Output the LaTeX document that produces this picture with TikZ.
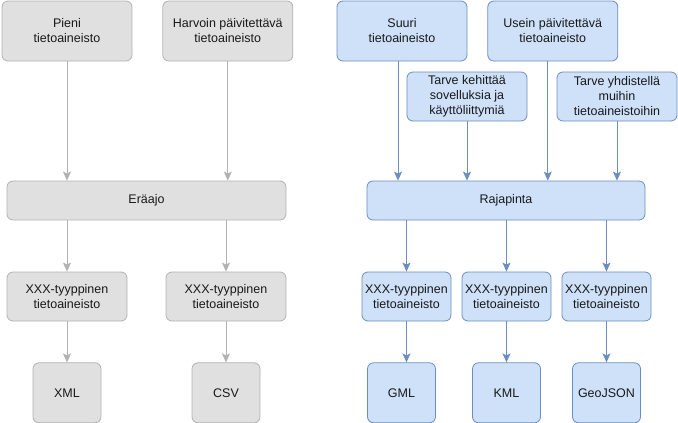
\documentclass[tikz,border=0pt]{standalone}
\usepackage{fontspec}
\setmainfont{Liberation Sans}
\usetikzlibrary{positioning,arrows.meta}
\definecolor{greyfill}{RGB}{224,224,224}
\definecolor{greyline}{RGB}{178,178,178}
\definecolor{bluefill}{RGB}{206,225,248}
\definecolor{blueline}{RGB}{108,142,191}
\begin{document}
\begin{tikzpicture}[x=1pt,y=-1pt,
    box/.style={draw,rounded corners=6pt,align=center,inner sep=0pt,line width=0.8pt,
      text=black!90,font=\fontsize{12.5}{15}\selectfont},
    greybox/.style={box,fill=greyfill,draw=greyline},
    bluebox/.style={box,fill=bluefill,draw=blueline},
    big/.style={minimum width=130pt,minimum height=60pt},
    wide/.style={minimum width=279pt,minimum height=39pt},
    format/.style={minimum width=68pt,minimum height=60pt},
    greyarrow/.style={draw=greyline,line width=0.8pt,-{Stealth[length=9pt,width=8pt,inset=2pt]}},
    bluearrow/.style={draw=blueline,line width=0.8pt,-{Stealth[length=9pt,width=8pt,inset=2pt]}}]
  \useasboundingbox (0,0) rectangle (678,423);
  % eraajo
  \node[greybox,big] (pieni) at (67,31) {Pieni\\tietoaineisto};
  \node[greybox,big,right=30pt of pieni] (harvoin) {Harvoin päivitettävä\\tietoaineisto};
  \node[greybox,wide] (eraajo) at (146.5,200.5) {Eräajo};
  \node[greybox,minimum width=120pt,minimum height=49pt] (tyyppia) at (67,296.5) {XXX-tyyppinen\\tietoaineisto};
  \node[greybox,minimum width=120pt,minimum height=49pt] (tyyppib) at (226,296.5) {XXX-tyyppinen\\tietoaineisto};
  \node[greybox,format,below=41pt of tyyppia] (xml) {XML};
  \node[greybox,format,below=41pt of tyyppib] (csv) {CSV};
  %
  \draw[greyarrow] (pieni.south) -- (pieni.south |- eraajo.north);
  \draw[greyarrow] (harvoin.south) -- (harvoin.south |- eraajo.north);
  \draw[greyarrow] (tyyppia |- eraajo.south) -- (tyyppia.north);
  \draw[greyarrow] (tyyppib |- eraajo.south) -- (tyyppib.north);
  \draw[greyarrow] (tyyppia.south) -- (xml.north);
  \draw[greyarrow] (tyyppib.south) -- (csv.north);
  % rajapinta
  \node[bluebox,big] (suuri) at (402,31) {Suuri\\tietoaineisto};
  \node[bluebox,big,right=20pt of suuri] (usein) {Usein päivitettävä\\tietoaineisto};
  \node[bluebox,minimum width=120pt,minimum height=49pt] (kehittaa) at (467,96.5) {Tarve kehittää\\sovelluksia ja\\käyttöliittymiä};
  \node[bluebox,minimum width=120pt,minimum height=49pt] (yhdistella) at (617,96.5) {Tarve yhdistellä\\muihin\\tietoaineistoihin};
  \node[bluebox,minimum width=278pt,minimum height=39pt] (rajapinta) at (506,200.5) {Rajapinta};
  \node[bluebox,minimum width=89pt,minimum height=49pt] (tyyppic) at (406.5,296.5) {XXX-tyyppinen\\tietoaineisto};
  \node[bluebox,minimum width=89pt,minimum height=49pt] (tyyppid) at (506.5,296.5) {XXX-tyyppinen\\tietoaineisto};
  \node[bluebox,minimum width=89pt,minimum height=49pt] (tyyppie) at (606.5,296.5) {XXX-tyyppinen\\tietoaineisto};
  \node[bluebox,format,below=41pt of tyyppic,xshift=-5pt] (gml) {GML};
  \node[bluebox,format,below=41pt of tyyppid] (kml) {KML};
  \node[bluebox,format,below=41pt of tyyppie] (geojson) {GeoJSON};
  %
  \draw[bluearrow] ([xshift=-4pt]suuri.south) -- ([xshift=-4pt]suuri.south |- rajapinta.north);
  \draw[bluearrow] (kehittaa.south) -- (kehittaa.south |- rajapinta.north);
  \draw[bluearrow] ([xshift=-5pt]usein.south) -- ([xshift=-5pt]usein.south |- rajapinta.north);
  \draw[bluearrow] (yhdistella.south) -- (yhdistella.south |- rajapinta.north);
  \draw[bluearrow] (tyyppic |- rajapinta.south) -- (tyyppic.north);
  \draw[bluearrow] (tyyppid |- rajapinta.south) -- (tyyppid.north);
  \draw[bluearrow] (tyyppie |- rajapinta.south) -- (tyyppie.north);
  \draw[bluearrow] (tyyppic.south) -- (tyyppic.south |- gml.north);
  \draw[bluearrow] (tyyppid.south) -- (kml.north);
  \draw[bluearrow] (tyyppie.south) -- (geojson.north);
\end{tikzpicture}
\end{document}
